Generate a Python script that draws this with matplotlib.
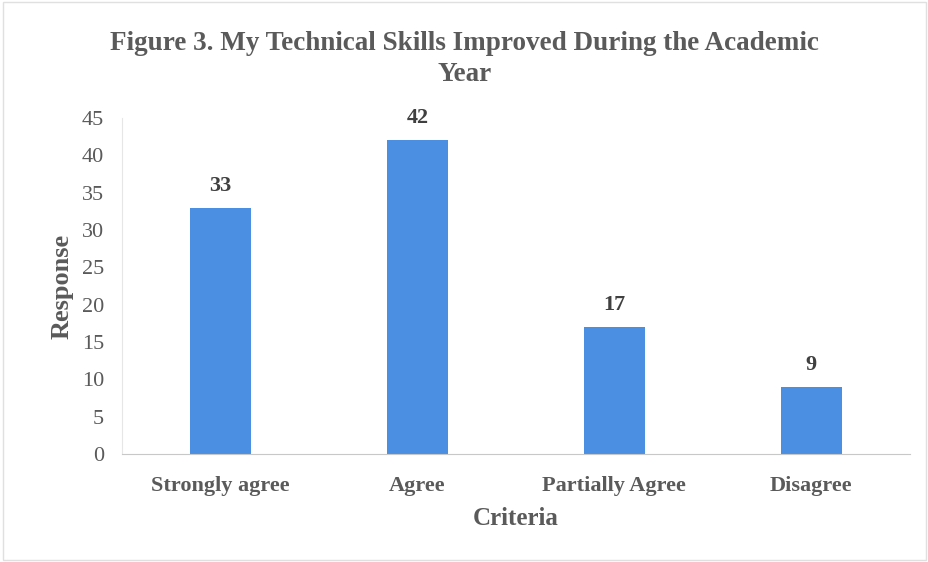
import matplotlib.pyplot as plt

criteria = ["Strongly agree", "Agree", "Partially Agree", "Disagree"]
responses = [33, 42, 17, 9]
y_ticks = [0, 5, 10, 15, 20, 25, 30, 35, 40, 45]


def main():
    plt.rcParams["font.family"] = ["Liberation Serif", "DejaVu Serif"]
    text_color = "#5a5a5a"

    fig = plt.figure(figsize=(9.29, 5.62), dpi=100)
    ax = fig.add_axes([0.1313, 0.1922, 0.848, 0.598])

    x = range(len(criteria))
    bars = ax.bar(x, responses, width=0.31, color="#4A8FE2")

    for b, v in zip(bars, responses):
        ax.text(b.get_x() + b.get_width() / 2, v + 1.6, str(v),
                ha="center", va="bottom", fontsize=16, fontweight="bold",
                color="#404040")

    ax.set_xlim(-0.5, len(criteria) - 0.5)
    ax.set_ylim(0, 45)
    ax.set_yticks(y_ticks)
    ax.set_xticks(list(x))
    ax.set_xticklabels(criteria, fontsize=16, fontweight="bold", color=text_color)
    ax.tick_params(axis="y", labelsize=16, labelcolor=text_color, length=0, pad=13)
    ax.tick_params(axis="x", length=0, pad=16)

    for side in ["top", "right"]:
        ax.spines[side].set_visible(False)
    ax.spines["left"].set_color("#e6e6e6")
    ax.spines["bottom"].set_color("#c8c8c8")

    ax.set_ylabel("Response", fontsize=19, fontweight="bold", color=text_color, labelpad=6)
    ax.set_xlabel("Criteria", fontsize=18, fontweight="bold", color=text_color, labelpad=8)

    fig.text(0.5, 0.895, "Figure 3. My Technical Skills Improved During the Academic\nYear",
             ha="center", va="center", fontsize=19.5, fontweight="bold",
             color=text_color, linespacing=1.35)

    fig.patches.append(plt.Rectangle((0.003, 0.003), 0.994, 0.994, transform=fig.transFigure,
                                     fill=False, edgecolor="#e0e0e0", linewidth=1))

    fig.savefig("out.png", dpi=100)


if __name__ == "__main__":
    main()
